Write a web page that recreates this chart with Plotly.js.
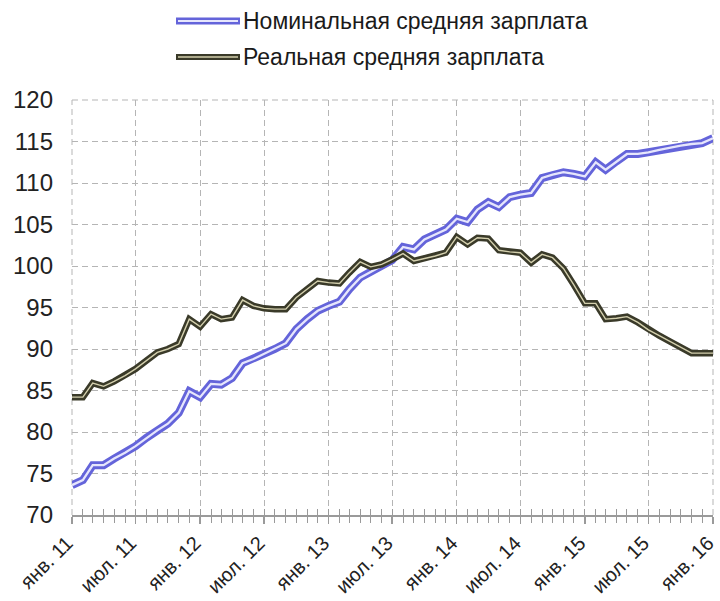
<!DOCTYPE html>
<html>
<head>
<meta charset="utf-8">
<script src="https://cdn.plot.ly/plotly-3.0.1.min.js"></script>
<style>
  html, body { margin: 0; padding: 0; background: #ffffff; }
  #chart { width: 720px; height: 601px; }
</style>
</head>
<body>
<div id="chart"></div>
<script>
// Months (Jan 2011 .. Jan 2016)
const months = [
  "2011-01-01","2011-02-01","2011-03-01","2011-04-01","2011-05-01","2011-06-01",
  "2011-07-01","2011-08-01","2011-09-01","2011-10-01","2011-11-01","2011-12-01",
  "2012-01-01","2012-02-01","2012-03-01","2012-04-01","2012-05-01","2012-06-01",
  "2012-07-01","2012-08-01","2012-09-01","2012-10-01","2012-11-01","2012-12-01",
  "2013-01-01","2013-02-01","2013-03-01","2013-04-01","2013-05-01","2013-06-01",
  "2013-07-01","2013-08-01","2013-09-01","2013-10-01","2013-11-01","2013-12-01",
  "2014-01-01","2014-02-01","2014-03-01","2014-04-01","2014-05-01","2014-06-01",
  "2014-07-01","2014-08-01","2014-09-01","2014-10-01","2014-11-01","2014-12-01",
  "2015-01-01","2015-02-01","2015-03-01","2015-04-01","2015-05-01","2015-06-01",
  "2015-07-01","2015-08-01","2015-09-01","2015-10-01","2015-11-01","2015-12-01",
  "2016-01-01"
];

// Nominal average wage index
const nominal = [
  73.6, 74.2, 76.0, 76.0, 76.8, 77.5, 78.3, 79.3, 80.2, 81.0, 82.3, 84.9,
  84.2, 85.8, 85.7, 86.5, 88.3, 88.8, 89.4, 90.0, 90.7, 92.4, 93.6, 94.6,
  95.2, 95.7, 97.2, 98.6, 99.3, 100.0, 100.7, 102.3, 102.0, 103.2, 103.8, 104.4,
  105.7, 105.3, 106.8, 107.7, 107.1, 108.3, 108.6, 108.8, 110.6, 111.0, 111.3, 111.1,
  110.8, 112.5, 111.6, 112.6, 113.5, 113.5, 113.7, 114.0, 114.3, 114.5, 114.7, 114.8,
  115.4
];

// Real average wage index
const real = [
  84.2, 84.2, 85.9, 85.5, 86.1, 86.8, 87.6, 88.6, 89.6, 90.0, 90.6, 93.6,
  92.7, 94.2, 93.6, 93.8, 95.9, 95.2, 94.9, 94.8, 94.8, 96.2, 97.2, 98.2,
  98.0, 97.9, 99.2, 100.5, 99.9, 100.2, 100.8, 101.5, 100.6, 100.9, 101.2, 101.6,
  103.5, 102.6, 103.4, 103.3, 101.9, 101.7, 101.6, 100.4, 101.4, 101.0, 99.7, 97.7,
  95.5, 95.5, 93.6, 93.7, 93.9, 93.2, 92.3, 91.6, 90.9, 90.2, 89.5, 89.5,
  89.5
];

// Labelled ticks
const tickVals = ["2011-01-01","2011-07-01","2012-01-01","2012-07-01","2013-01-01","2013-07-01",
                  "2014-01-01","2014-07-01","2015-01-01","2015-07-01","2016-01-01"];
const tickText = ["янв. 11","июл. 11","янв. 12","июл. 12","янв. 13","июл. 13",
                  "янв. 14","июл. 14","янв. 15","июл. 15","янв. 16"];

const seriesNames = ["Номинальная средняя зарплата", "Реальная средняя зарплата"];

const FONT = "Liberation Sans, Arial, sans-serif";
const nomOuter = "#6464da", nomInner = "#e6e6fc";
const realOuter = "#3a3a29", realInner = "#d4d0ae";
const gridColor = "#b5b5b5";
const xRange = ["2010-12-31 23:50", "2016-01-01 00:10"];

const traces = [
  { x: months, y: nominal, type: "scatter", mode: "lines", name: seriesNames[0],
    line: { color: nomOuter, width: 8 }, showlegend: false, hoverinfo: "skip" },
  { x: months, y: nominal, type: "scatter", mode: "lines", name: seriesNames[0],
    line: { color: nomInner, width: 2.3 }, showlegend: false, hoverinfo: "skip" },
  { x: months, y: real, type: "scatter", mode: "lines", name: seriesNames[1],
    line: { color: realOuter, width: 6.5 }, showlegend: false, hoverinfo: "skip" },
  { x: months, y: real, type: "scatter", mode: "lines", name: seriesNames[1],
    line: { color: realInner, width: 1.4 }, showlegend: false, hoverinfo: "skip" },
  // empty trace so that the overlaid tick axis is drawn
  { x: [months[0]], y: [null], xaxis: "x2", yaxis: "y", type: "scatter", mode: "lines",
    showlegend: false, hoverinfo: "skip" }
];

// legend built in paper coordinates
const px0 = 72, pw = 641, py1 = 515, ph = 415;
const toPX = (p) => (p - px0) / pw;
const toPY = (p) => (py1 - p) / ph;
const legendRows = [
  { y: 21, outer: nomOuter, inner: nomInner, wo: 7, wi: 2, text: seriesNames[0] },
  { y: 57, outer: realOuter, inner: realInner, wo: 6, wi: 1.3, text: seriesNames[1] }
];
const shapes = [
  // frame-edge dashed grid lines (left, right, top)
  { type: "line", xref: "paper", yref: "paper", x0: 0, x1: 0, y0: 0, y1: 1, layer: "below",
    line: { color: gridColor, width: 1, dash: "6px,4px" } },
  { type: "line", xref: "paper", yref: "paper", x0: 1, x1: 1, y0: 0, y1: 1, layer: "below",
    line: { color: gridColor, width: 1, dash: "6px,4px" } },
  { type: "line", xref: "paper", yref: "paper", x0: 0, x1: 1, y0: 1, y1: 1, layer: "below",
    line: { color: gridColor, width: 1, dash: "6px,4px" } }
];
const annotations = [];
legendRows.forEach(r => {
  shapes.push({ type: "line", xref: "paper", yref: "paper",
    x0: toPX(176), x1: toPX(240), y0: toPY(r.y), y1: toPY(r.y),
    line: { color: r.outer, width: r.wo } });
  shapes.push({ type: "line", xref: "paper", yref: "paper",
    x0: toPX(178), x1: toPX(238), y0: toPY(r.y), y1: toPY(r.y),
    line: { color: r.inner, width: r.wi } });
  annotations.push({ xref: "paper", yref: "paper", x: toPX(241), y: toPY(r.y),
    xanchor: "left", yanchor: "middle", showarrow: false, text: r.text,
    font: { family: FONT, size: 23, color: "#1a1a1a" } });
});

const layout = {
  width: 720, height: 601,
  margin: { l: 72, r: 7, t: 100, b: 86 },
  paper_bgcolor: "#ffffff", plot_bgcolor: "#ffffff",
  showlegend: false,
  font: { family: FONT, color: "#222222" },
  xaxis: {
    type: "date",
    range: xRange,
    tickmode: "array", tickvals: tickVals, ticktext: tickText,
    tickangle: -45, ticklabeloverflow: "allow",
    ticklabelshift: -5,
    tickfont: { family: FONT, size: 20, color: "#222222" },
    showgrid: true, gridcolor: gridColor, gridwidth: 1, griddash: "6px,4px",
    showline: true, linecolor: "#9a9a9a", linewidth: 1.5,
    ticks: "outside", ticklen: 7, tickwidth: 1.5, tickcolor: "#9a9a9a",
    minor: { tickmode: "array", tickvals: months, ticks: "outside", ticklen: 6,
             tickwidth: 1, tickcolor: "#9a9a9a", showgrid: false },
    zeroline: false, fixedrange: true
  },
  xaxis2: {
    type: "date", overlaying: "x", anchor: "y", side: "bottom",
    range: xRange,
    tickmode: "array", tickvals: months, showticklabels: false,
    ticks: "inside", ticklen: 6, tickwidth: 1, tickcolor: "#9a9a9a",
    showgrid: false, showline: false, zeroline: false
  },
  yaxis: {
    range: [70, 120], dtick: 5, tick0: 70,
    tickfont: { family: FONT, size: 24, color: "#222222" },
    showgrid: true, gridcolor: gridColor, gridwidth: 1, griddash: "6px,4px",
    showline: false, ticks: "", ticklabelstandoff: 18, zeroline: false, fixedrange: true
  },
  shapes: shapes,
  annotations: annotations
};

Plotly.newPlot("chart", traces, layout, { displayModeBar: false, staticPlot: true });
</script>
</body>
</html>
